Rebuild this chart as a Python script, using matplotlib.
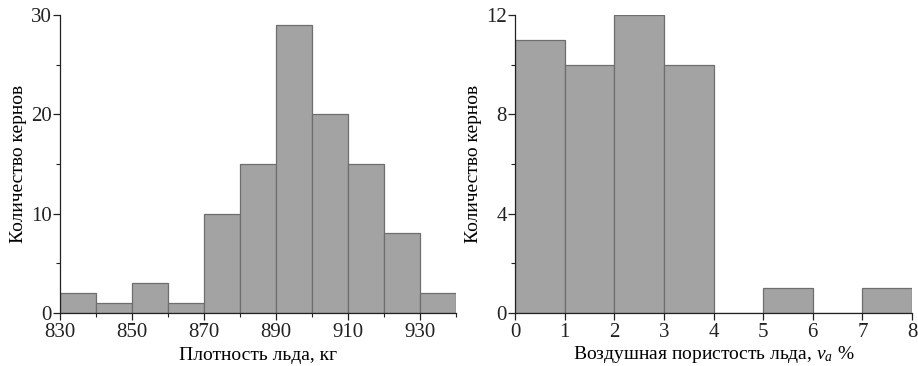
import matplotlib.pyplot as plt
from matplotlib.ticker import MultipleLocator

plt.rcParams['font.family'] = ['Liberation Serif', 'DejaVu Serif']
plt.rcParams['mathtext.fontset'] = 'custom'
plt.rcParams['mathtext.it'] = 'Liberation Serif:italic'
plt.rcParams['mathtext.rm'] = 'Liberation Serif'

# Плотность льда
density_edges = [830, 840, 850, 860, 870, 880, 890, 900, 910, 920, 930, 940]
density_counts = [2, 1, 3, 1, 10, 15, 29, 20, 15, 8, 2]
density_ticks = [830, 850, 870, 890, 910, 930]

# Воздушная пористость
porosity_edges = [0, 1, 2, 3, 4, 5, 6, 7, 8]
porosity_counts = [11, 10, 12, 10, 0, 1, 0, 1]

bar_color = '#a3a3a3'
edge_color = '#6e6e6e'

fig = plt.figure(figsize=(9.18, 3.66), dpi=100)
ax1 = fig.add_axes([0.0654, 0.145, 0.4316, 0.814])
ax2 = fig.add_axes([0.561, 0.145, 0.4325, 0.814])


def draw_hist(ax, edges, counts):
    widths = [edges[i + 1] - edges[i] for i in range(len(counts))]
    ax.bar(edges[:-1], counts, width=widths, align='edge',
           color=bar_color, edgecolor=edge_color, linewidth=0.9)
    ax.set_xlim(edges[0], edges[-1])
    for s in ['top', 'right']:
        ax.spines[s].set_visible(False)
    for s in ['left', 'bottom']:
        ax.spines[s].set_color('#222222')
        ax.spines[s].set_linewidth(0.9)
    ax.tick_params(which='major', direction='out', length=5, width=0.9,
                   labelsize=15, colors='#222222', pad=2)
    ax.tick_params(which='minor', direction='out', length=3, width=0.8,
                   colors='#222222')
    ax.tick_params(axis='y', pad=1)


draw_hist(ax1, density_edges, density_counts)
ax1.set_ylim(0, 30)
ax1.set_xticks(density_ticks)
ax1.set_xticks(density_edges, minor=True)
ax1.yaxis.set_major_locator(MultipleLocator(10))
ax1.yaxis.set_minor_locator(MultipleLocator(5))
ax1.set_xlabel('Плотность льда, кг', fontsize=14, labelpad=4)
ax1.set_ylabel('Количество кернов', fontsize=14, labelpad=3)

draw_hist(ax2, porosity_edges, porosity_counts)
ax2.set_ylim(0, 12)
ax2.xaxis.set_major_locator(MultipleLocator(1))
ax2.yaxis.set_major_locator(MultipleLocator(4))
ax2.yaxis.set_minor_locator(MultipleLocator(2))
ax2.set_xlabel(r'Воздушная пористость льда, $v_a$ %', fontsize=14, labelpad=2)
ax2.set_ylabel('Количество кернов', fontsize=14, labelpad=3)

fig.savefig('out.png', dpi=100)
